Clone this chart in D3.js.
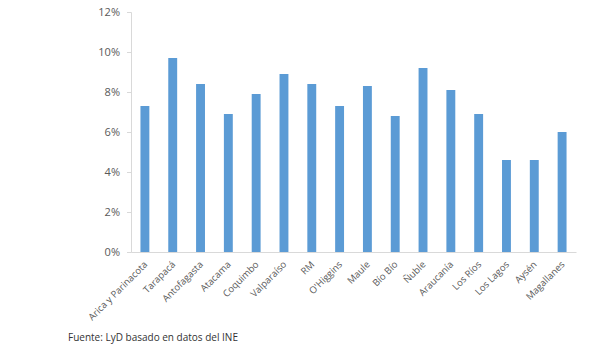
<!DOCTYPE html>
<html>
<head>
<meta charset="utf-8">
<script src="https://cdn.jsdelivr.net/npm/d3@7"></script>
<style>
  body { margin: 0; background: #fff; }
  text { font-family: "Open Sans", "Liberation Sans", sans-serif; }
</style>
</head>
<body>
<svg id="chart" width="602" height="364"></svg>
<script>
var regions = ["Arica y Parinacota", "Tarapacá", "Antofagasta", "Atacama", "Coquimbo",
  "Valparaíso", "RM", "O'Higgins", "Maule", "Bío Bío", "Ñuble", "Araucanía",
  "Los Ríos", "Los Lagos", "Aysén", "Magallanes"];
var rates = [0.073, 0.097, 0.084, 0.069, 0.079, 0.089, 0.084, 0.073, 0.083, 0.068,
  0.092, 0.081, 0.069, 0.046, 0.046, 0.060];
var yTicks = [0, 0.02, 0.04, 0.06, 0.08, 0.10, 0.12];

var svg = d3.select("#chart");

var x = d3.scaleBand()
    .domain(regions)
    .range([131, 576])
    .paddingInner(0.68)
    .paddingOuter(0.34);

var y = d3.scaleLinear()
    .domain([0, 0.12])
    .range([252, 12]);

// y axis
var yAxis = svg.append("g")
    .attr("transform", "translate(131,0)")
    .call(d3.axisLeft(y).tickValues(yTicks).tickFormat(d3.format(".0%")).tickSize(4).tickPadding(7));
yAxis.select(".domain").attr("stroke", "#d9d9d9");
yAxis.selectAll(".tick line").attr("stroke", "#d9d9d9");
yAxis.selectAll(".tick text").attr("fill", "#595959").attr("font-size", "11px");

// bars
svg.append("g")
  .selectAll("rect")
  .data(regions)
  .enter()
  .append("rect")
    .attr("x", d => x(d))
    .attr("width", x.bandwidth())
    .attr("y", (d, i) => y(rates[i]))
    .attr("height", (d, i) => y(0) - y(rates[i]))
    .attr("fill", "#5b9bd5");

// x axis
var xAxis = svg.append("g")
    .attr("transform", "translate(0,252)")
    .call(d3.axisBottom(x).tickSize(0).tickPadding(8));
xAxis.select(".domain").attr("stroke", "#d9d9d9");
xAxis.selectAll(".tick text")
    .attr("fill", "#595959")
    .attr("font-size", "9.5px")
    .style("text-anchor", "end")
    .attr("dx", "-7")
    .attr("dy", "3.5")
    .attr("transform", "rotate(-45)");

svg.append("text")
    .attr("x", 68)
    .attr("y", 341)
    .attr("font-size", "10px")
    .attr("fill", "#333")
    .text("Fuente: LyD basado en datos del INE");
</script>
</body>
</html>
